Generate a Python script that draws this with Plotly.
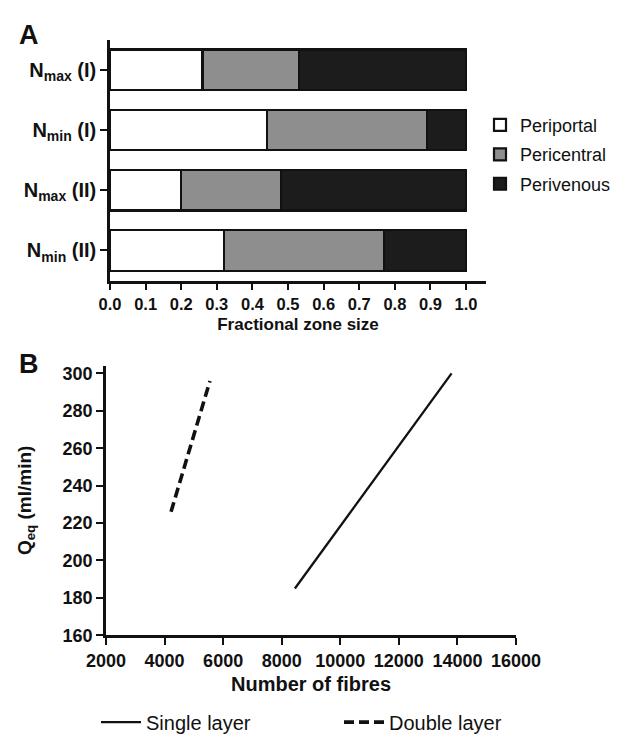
import plotly.graph_objects as go

# ---------------- data ----------------
categories = ["Nmax (I)", "Nmin (I)", "Nmax (II)", "Nmin (II)"]
category_labels = ["<b>N<sub>max</sub> (I)</b>", "<b>N<sub>min</sub> (I)</b>",
                   "<b>N<sub>max</sub> (II)</b>", "<b>N<sub>min</sub> (II)</b>"]
periportal = [0.26, 0.44, 0.20, 0.32]
pericentral = [0.27, 0.45, 0.28, 0.45]
perivenous = [0.47, 0.11, 0.52, 0.23]
zone_ticks = [0.0, 0.1, 0.2, 0.3, 0.4, 0.5, 0.6, 0.7, 0.8, 0.9, 1.0]

single_fibres = [8450, 13800]
single_q = [185, 300]
double_fibres = [4220, 5550]
double_q = [226, 296]
fibre_ticks = [2000, 4000, 6000, 8000, 10000, 12000, 14000, 16000]
fibre_labels = ["2000", "4000", "6000", "8000", "10000", "12000", "14000", "16000"]
q_ticks = [160, 180, 200, 220, 240, 260, 280, 300]

W, H = 623, 734
FONT = "Liberation Sans, Arial, sans-serif"

def px_x(p):
    return p / W

def px_y(p):
    return 1 - p / H

fig = go.Figure()

zones = [("Periportal", periportal, "#ffffff"),
         ("Pericentral", pericentral, "#8e8e8e"),
         ("Perivenous", perivenous, "#1c1c1c")]
for i, (name, vals, col) in enumerate(zones):
    fig.add_trace(go.Bar(
        y=categories, x=vals, orientation="h", name=name,
        marker=dict(color=col, line=dict(color="#111111", width=2.2)),
        width=0.67, xaxis="x", yaxis="y", legend="legend",
        legendgroup=name,
    ))

fig.add_trace(go.Scatter(
    x=single_fibres, y=single_q, mode="lines", name="Single layer",
    line=dict(color="#111111", width=2.3), xaxis="x2", yaxis="y2",
    legend="legend2",
))
fig.add_trace(go.Scatter(
    x=double_fibres, y=double_q, mode="lines", name="Double layer",
    line=dict(color="#111111", width=3.6, dash="10px,5px"), xaxis="x2", yaxis="y2",
    legend="legend2",
))

axis_common = dict(showline=True, linecolor="#111111", linewidth=2.6,
                   ticks="outside", ticklen=7, tickwidth=2.2, tickcolor="#111111",
                   showgrid=False, zeroline=False, automargin=False)

fig.update_layout(
    width=W, height=H,
    margin=dict(l=0, r=0, t=0, b=0),
    paper_bgcolor="white", plot_bgcolor="white",
    barmode="stack", bargap=0.33,
    font=dict(family=FONT, color="#111111"),
    xaxis=dict(domain=[px_x(102), px_x(478)], anchor="y", range=[0, 1.056],
               tickvals=zone_ticks, tickformat=".1f",
               tickfont=dict(size=16.5, weight="bold", family=FONT),
               title=dict(text="<b>Fractional zone size</b>", font=dict(size=17), standoff=6),
               **axis_common),
    yaxis=dict(domain=[px_y(276), px_y(32)], anchor="x", type="category",
               categoryorder="array", categoryarray=categories,
               range=[3.5, -0.5], tickvals=categories, ticktext=category_labels,
               tickfont=dict(size=20, family=FONT),
               **axis_common),
    xaxis2=dict(domain=[px_x(98), px_x(508)], anchor="y2", range=[2000, 16000],
                tickvals=fibre_ticks, ticktext=fibre_labels,
                tickfont=dict(size=18, weight="bold", family=FONT),
                title=dict(text="<b>Number of fibres</b>", font=dict(size=20), standoff=8),
                **axis_common),
    yaxis2=dict(domain=[px_y(635), px_y(362)], anchor="x2", range=[160, 304.2],
                tickvals=q_ticks,
                tickfont=dict(size=18, weight="bold", family=FONT),
                title=dict(text="<b>Q<sub>eq</sub> (ml/min)</b>", font=dict(size=19), standoff=26),
                **axis_common),
    legend=dict(x=px_x(472), y=px_y(100), xanchor="left", yanchor="top",
                font=dict(size=18, family=FONT), bgcolor="rgba(0,0,0,0)",
                traceorder="grouped", tracegroupgap=3, itemwidth=30),
    legend2=dict(orientation="h", x=px_x(88), y=px_y(723), xanchor="left", yanchor="middle",
                 font=dict(size=20, family=FONT), bgcolor="rgba(0,0,0,0)",
                 itemwidth=40, entrywidth=188),
    showlegend=True,
    annotations=[
        dict(text="<b>A</b>", x=px_x(9), y=px_y(27), xref="paper", yref="paper",
             xanchor="left", yanchor="middle", showarrow=False, font=dict(size=27)),
        dict(text="<b>B</b>", x=px_x(9), y=px_y(360), xref="paper", yref="paper",
             xanchor="left", yanchor="middle", showarrow=False, font=dict(size=27)),
    ],
)

fig.write_html("out.html")
